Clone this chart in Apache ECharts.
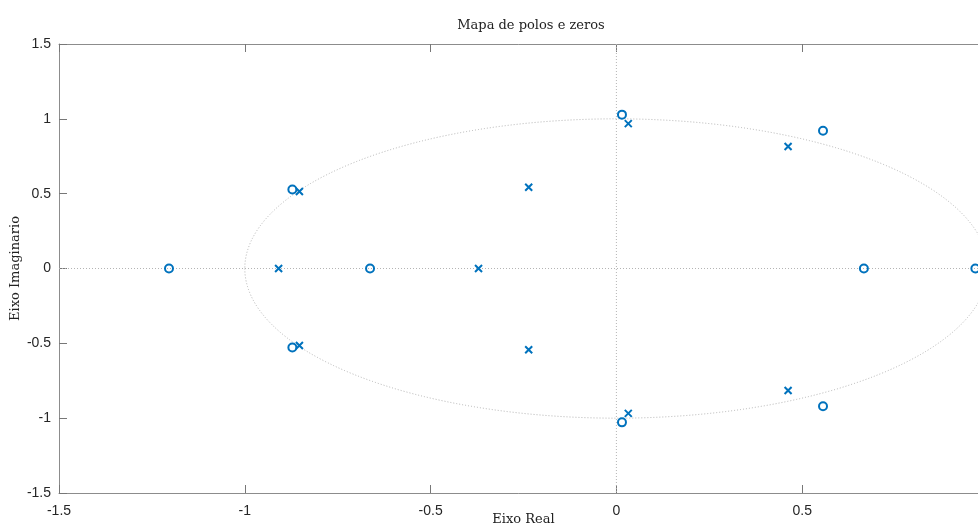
<!DOCTYPE html>
<html>
<head>
<meta charset="utf-8">
<script src="https://cdn.jsdelivr.net/npm/echarts@6/dist/echarts.min.js"></script>
<style>
  html, body { margin: 0; padding: 0; background: #fff; }
  #chart { width: 978px; height: 531px; }
</style>
</head>
<body>
<div id="chart"></div>
<script>
// Zeros (o) and poles (x) of the system, as [real, imag]
const zeros = [
  [-1.204, 0], [-0.663, 0], [0.666, 0], [0.966, 0],
  [-0.872, 0.528], [-0.872, -0.528],
  [0.015, 1.028], [0.015, -1.028],
  [0.556, 0.92], [0.556, -0.92]
];
const poles = [
  [-0.909, 0], [-0.371, 0],
  [-0.236, 0.543], [-0.236, -0.543],
  [-0.853, 0.514], [-0.853, -0.514],
  [0.032, 0.968], [0.032, -0.968],
  [0.462, 0.815], [0.462, -0.815]
];
const xTickLabels = ['-1.5', '-1', '-0.5', '0', '0.5', '1'];
const yTickLabels = ['-1.5', '-1', '-0.5', '0', '0.5', '1', '1.5'];
const unitCircle = [[0, 0, 1]]; // centre and radius

const blue = '#0072BD';
const refGrey = '#b4b4b4';
const axisGrey = '#8c8c8c';
const tickFont = { fontFamily: 'Liberation Sans, Arial, sans-serif', fontSize: 14, color: '#262626' };
const serif = 'DejaVu Serif, Liberation Serif, serif';

function labelFrom(list, min) {
  return function (v) { return list[Math.round((v - min) / 0.5)]; };
}

const chart = echarts.init(document.getElementById('chart'), null, { renderer: 'canvas' });
chart.setOption({
  animation: false,
  backgroundColor: '#ffffff',
  title: {
    text: 'Mapa de polos e zeros',
    left: 526, top: 14, textAlign: 'center',
    textStyle: { fontFamily: serif, fontSize: 13, fontWeight: 'normal', color: '#222' }
  },
  grid: { left: 59, top: 44, right: -10, bottom: 38, containLabel: false, outerBoundsMode: 'none' },
  xAxis: [{
    type: 'value', min: -1.5, max: 1, interval: 0.5, position: 'bottom',
    name: 'Eixo Real', nameLocation: 'middle', nameGap: 20, nameMoveOverlap: false,
    nameTextStyle: { fontFamily: serif, fontSize: 13, color: '#222' },
    axisLine: { show: true, onZero: false, lineStyle: { color: axisGrey, width: 1 } },
    axisTick: { show: true, inside: true, length: 8, lineStyle: { color: '#777' } },
    axisLabel: { ...tickFont, margin: 11, showMaxLabel: false, formatter: labelFrom(xTickLabels, -1.5) },
    splitLine: { show: false }
  }, {
    type: 'value', min: -1.5, max: 1, interval: 0.5, position: 'top',
    axisLine: { show: true, onZero: false, lineStyle: { color: axisGrey, width: 1 } },
    axisTick: { show: true, inside: true, length: 8, lineStyle: { color: '#777' } },
    axisLabel: { show: false },
    splitLine: { show: false }
  }],
  yAxis: [{
    type: 'value', min: -1.5, max: 1.5, interval: 0.5,
    name: 'Eixo Imaginario', nameLocation: 'middle', nameGap: 37, nameMoveOverlap: false,
    nameTextStyle: { fontFamily: serif, fontSize: 13, color: '#222' },
    axisLine: { show: true, onZero: false, lineStyle: { color: axisGrey, width: 1 } },
    axisTick: { show: true, inside: true, length: 8, lineStyle: { color: '#777' } },
    axisLabel: { ...tickFont, margin: 8, formatter: labelFrom(yTickLabels, -1.5) },
    splitLine: { show: false }
  }],
  series: [{
    // unit circle plus the real and imaginary reference axes
    type: 'custom',
    coordinateSystem: 'cartesian2d',
    silent: true,
    z: 1,
    data: unitCircle,
    clip: true,
    renderItem: function (params, api) {
      const c = api.coord([api.value(0), api.value(1)]);
      const r = api.value(2);
      const left = api.coord([api.value(0) - r, api.value(1)]);
      const top = api.coord([api.value(0), api.value(1) + r]);
      const rx = c[0] - left[0];
      const ry = c[1] - top[1];
      const cs = params.coordSys;
      const style = { stroke: refGrey, fill: null, lineWidth: 1, lineDash: [1, 2] };
      return {
        type: 'group',
        children: [{
          type: 'path',
          shape: {
            pathData: 'M' + (c[0] - rx) + ' ' + c[1] +
              ' A' + rx + ' ' + ry + ' 0 1 0 ' + (c[0] + rx) + ' ' + c[1] +
              ' A' + rx + ' ' + ry + ' 0 1 0 ' + (c[0] - rx) + ' ' + c[1] + ' Z'
          },
          style: style
        }, {
          type: 'line',
          shape: { x1: cs.x, y1: c[1], x2: cs.x + cs.width, y2: c[1] },
          style: style
        }, {
          type: 'line',
          shape: { x1: c[0], y1: cs.y, x2: c[0], y2: cs.y + cs.height },
          style: style
        }]
      };
    }
  }, {
    name: 'zeros',
    type: 'scatter',
    data: zeros,
    symbol: 'circle',
    symbolSize: 8,
    z: 3,
    itemStyle: { color: 'rgba(0,0,0,0)', borderColor: blue, borderWidth: 2, opacity: 1 }
  }, {
    name: 'poles',
    type: 'scatter',
    data: poles,
    symbol: 'path://M0,0L10,10M10,0L0,10',
    symbolSize: 7,
    z: 3,
    itemStyle: { color: 'rgba(0,0,0,0)', borderColor: blue, borderWidth: 2, opacity: 1 }
  }]
});
</script>
</body>
</html>
